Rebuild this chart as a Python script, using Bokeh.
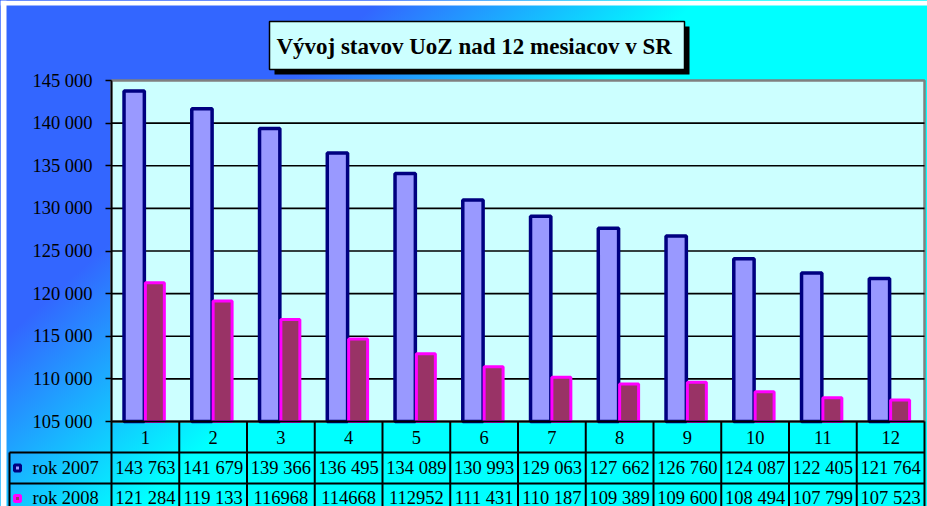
from bokeh.plotting import figure
from bokeh.models import Range1d, LinearAxis, FixedTicker
from bokeh.core.properties import value
from bokeh.embed import file_html
from bokeh.resources import INLINE

# ---------------- data ----------------
months = ["1", "2", "3", "4", "5", "6", "7", "8", "9", "10", "11", "12"]
rok_2007 = [143763, 141679, 139366, 136495, 134089, 130993, 129063, 127662, 126760, 124087, 122405, 121764]
rok_2008 = [121284, 119133, 116968, 114668, 112952, 111431, 110187, 109389, 109600, 108494, 107799, 107523]
labels_2007 = ["143 763", "141 679", "139 366", "136 495", "134 089", "130 993",
               "129 063", "127 662", "126 760", "124 087", "122 405", "121 764"]
labels_2008 = ["121 284", "119 133", "116968", "114668", "112952", "111 431",
               "110 187", "109 389", "109 600", "108 494", "107 799", "107 523"]
series_names = ["rok 2007", "rok 2008"]
title_text = "Vývoj stavov  UoZ nad 12 mesiacov v SR"
y_ticks = [105000, 110000, 115000, 120000, 125000, 130000, 135000, 140000, 145000]
y_tick_labels = ["105 000", "110 000", "115 000", "120 000", "125 000",
                 "130 000", "135 000", "140 000", "145 000"]

# ---------------- layout (canvas pixels) ----------------
W, H = 927, 506
PL, PT, PR, PB = 111, 80, 924, 421     # plot area
Y0, Y1 = y_ticks[0], y_ticks[-1]
n = len(months)
upp = (Y1 - Y0) / (PB - PT)
xu = (PR - PL) / n

SERIF = value("Liberation Serif")
FS = value("18.5px")

p = figure(width=W, height=H,
           x_range=Range1d(-PL / xu, n + (W - PR) / xu),
           y_range=Range1d(Y0 - (H - PB) * upp, Y1 + PT * upp),
           x_axis_type=None, y_axis_type=None,
           toolbar_location=None, output_backend="svg",
           min_border=0, border_fill_color=None,
           background_fill_color=None, outline_line_color=None)
p.styles = {"background": "linear-gradient(138deg, #3366FF 25.5%, #00FFFF 47%)"}
p.extra_x_ranges = {"px": Range1d(0, W)}
p.extra_y_ranges = {"px": Range1d(H, 0)}

# white page strips at top/left of the picture
p.quad(left=[0, 0], right=[W, 6], top=[0, 0], bottom=[5, H], x_range_name="px",
       y_range_name="px", fill_color="white", line_color=None)

# plot area
p.quad(left=[0], right=[n], bottom=[Y0], top=[Y1], fill_color="#CCFFFF",
       line_color="#808080", line_width=2.5)
grid_vals = y_ticks[1:-1]
p.segment(x0=[0] * len(grid_vals), x1=[n] * len(grid_vals), y0=grid_vals, y1=grid_vals,
          line_color="black", line_width=1.7)

# bars
xs = [i + 0.5 for i in range(n)]
p.vbar(x=[x - 0.165 for x in xs], top=rok_2007, bottom=Y0, width=0.30,
       fill_color="#9999FF", line_color="#000080", line_width=3.5)
p.vbar(x=[x + 0.14 for x in xs], top=rok_2008, bottom=Y0, width=0.28,
       fill_color="#993366", line_color="#FF00FF", line_width=3)

# y axis
ax = LinearAxis(fixed_location=0, bounds=(Y0, Y1), ticker=FixedTicker(ticks=y_ticks),
                major_label_overrides=dict(zip(y_ticks, y_tick_labels)),
                axis_line_color="black", axis_line_width=1.7,
                major_tick_in=0, major_tick_out=6, major_tick_line_width=1.7,
                major_tick_line_color="black", minor_tick_line_color=None,
                major_label_text_font="Liberation Serif",
                major_label_text_font_size="18.5px",
                major_label_text_color="black", major_label_standoff=13)
p.add_layout(ax, "left")

# data table
r_cat, r_a, r_b, r_end = PB, PB + 31, PB + 62, PB + 93
p.segment(x0=[0], x1=[n], y0=[r_cat], y1=[r_cat], y_range_name="px",
          line_color="black", line_width=2)
p.segment(x0=[9, 9], x1=[PR, PR], y0=[r_a, r_b], y1=[r_a, r_b],
          x_range_name="px", y_range_name="px", line_color="black", line_width=2)
p.segment(x0=list(range(n + 1)), x1=list(range(n + 1)), y0=[r_cat] * (n + 1),
          y1=[r_end] * (n + 1), y_range_name="px", line_color="black", line_width=2)
p.segment(x0=[9], x1=[9], y0=[r_a], y1=[r_end], x_range_name="px", y_range_name="px",
          line_color="black", line_width=2)

p.text(x=xs, y=[(r_cat + r_a) / 2] * n, text=months, y_range_name="px",
       text_font=SERIF, text_font_size=FS, text_align="center", text_baseline="middle",
       text_color="black")
p.text(x=xs, y=[(r_a + r_b) / 2] * n, text=labels_2007, y_range_name="px",
       text_font=SERIF, text_font_size=FS, text_align="center", text_baseline="middle",
       text_color="black")
p.text(x=xs, y=[r_b + 14] * n, text=labels_2008, y_range_name="px",
       text_font=SERIF, text_font_size=FS, text_align="center", text_baseline="middle",
       text_color="black")

# legend keys
p.text(x=[32, 32], y=[(r_a + r_b) / 2, r_b + 14], text=series_names,
       x_range_name="px", y_range_name="px", text_font=SERIF, text_font_size=FS,
       text_align="left", text_baseline="middle", text_color="black")
p.rect(x=[17], y=[(r_a + r_b) / 2], width=6, height=6, x_range_name="px",
       y_range_name="px", fill_color="#9999FF", line_color="#000080", line_width=3)
p.rect(x=[17], y=[r_b + 15], width=6, height=6, x_range_name="px",
       y_range_name="px", fill_color="#993366", line_color="#FF00FF", line_width=3)

# title box
bx0, bx1, by0, by1 = 269, 684, 21, 69
p.quad(left=[bx0 + 5], right=[bx1 + 5], top=[by0 + 5], bottom=[by1 + 5],
       x_range_name="px", y_range_name="px", fill_color="black", line_color=None)
p.quad(left=[bx0], right=[bx1], top=[by0], bottom=[by1], x_range_name="px",
       y_range_name="px", fill_color="#CCFFFF", line_color="black", line_width=1.5)
p.text(x=[(bx0 + bx1) / 2], y=[(by0 + by1) / 2 + 1], text=[title_text],
       x_range_name="px", y_range_name="px", text_font=SERIF,
       text_font_size=value("23px"), text_font_style="bold",
       text_align="center", text_baseline="middle", text_color="black")

open("out.html", "w").write(file_html(p, INLINE))
